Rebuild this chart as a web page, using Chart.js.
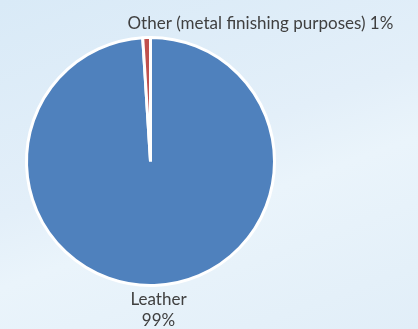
<!DOCTYPE html>
<html>
<head>
<meta charset="utf-8">
<script src="https://cdn.jsdelivr.net/npm/chart.js@4"></script>
<style>
  html, body { margin: 0; padding: 0; }
  body {
    width: 418px; height: 329px; overflow: hidden;
    background: linear-gradient(160deg, #d9eaf7 0%, #e3eff9 45%, #eaf4fb 60%, #e1eef8 100%);
  }
  #wrap { position: relative; width: 418px; height: 329px; }
</style>
</head>
<body>
<div id="wrap"><canvas id="pie_canvas" width="418" height="329"></canvas></div>
<script>
const labels = ["Leather", "Other (metal finishing purposes)"];
const shares = [99, 1];
const colors = ["#4f81bd", "#c0504d"];

// labels drawn next to the slices, like the office chart
const sliceLabels = {
    id: 'sliceLabels',
    afterDatasetsDraw(chart) {
        const ctx = chart.ctx;
        const arcs = chart.getDatasetMeta(0).data;
        ctx.save();
        ctx.fillStyle = '#404040';
        ctx.font = '17px Lato, "Open Sans", sans-serif';
        ctx.textBaseline = 'middle';

        // Leather: under the pie
        const a0 = arcs[0];
        ctx.textAlign = 'center';
        ctx.fillText(labels[0], a0.x + 8, a0.y + a0.outerRadius + 14);
        ctx.fillText(shares[0] + '%', a0.x + 8, a0.y + a0.outerRadius + 35);

        // Other: above the pie, one line
        const a1 = arcs[1];
        ctx.textAlign = 'left';
        ctx.fillText(labels[1] + ' ' + shares[1] + '%', a1.x - 23, a1.y - a1.outerRadius - 14);
        ctx.restore();
    }
};

const config = {
    type: 'pie',
    data: {
        labels: labels,
        datasets: [{
            data: shares,
            backgroundColor: colors,
            borderColor: '#ffffff',
            borderWidth: 3,
        }]
    },
    options: {
        responsive: false,
        animation: false,
        radius: 124,
        layout: {
            padding: { left: 25, right: 142, top: 36, bottom: 42 }
        },
        plugins: {
            legend: { display: false },
            tooltip: { enabled: false },
            title: { display: false }
        }
    },
    plugins: [sliceLabels]
};

var ctx_pie = document.getElementById("pie_canvas").getContext('2d');
var pie_chart = new Chart(ctx_pie, config);
</script>
</body>
</html>
